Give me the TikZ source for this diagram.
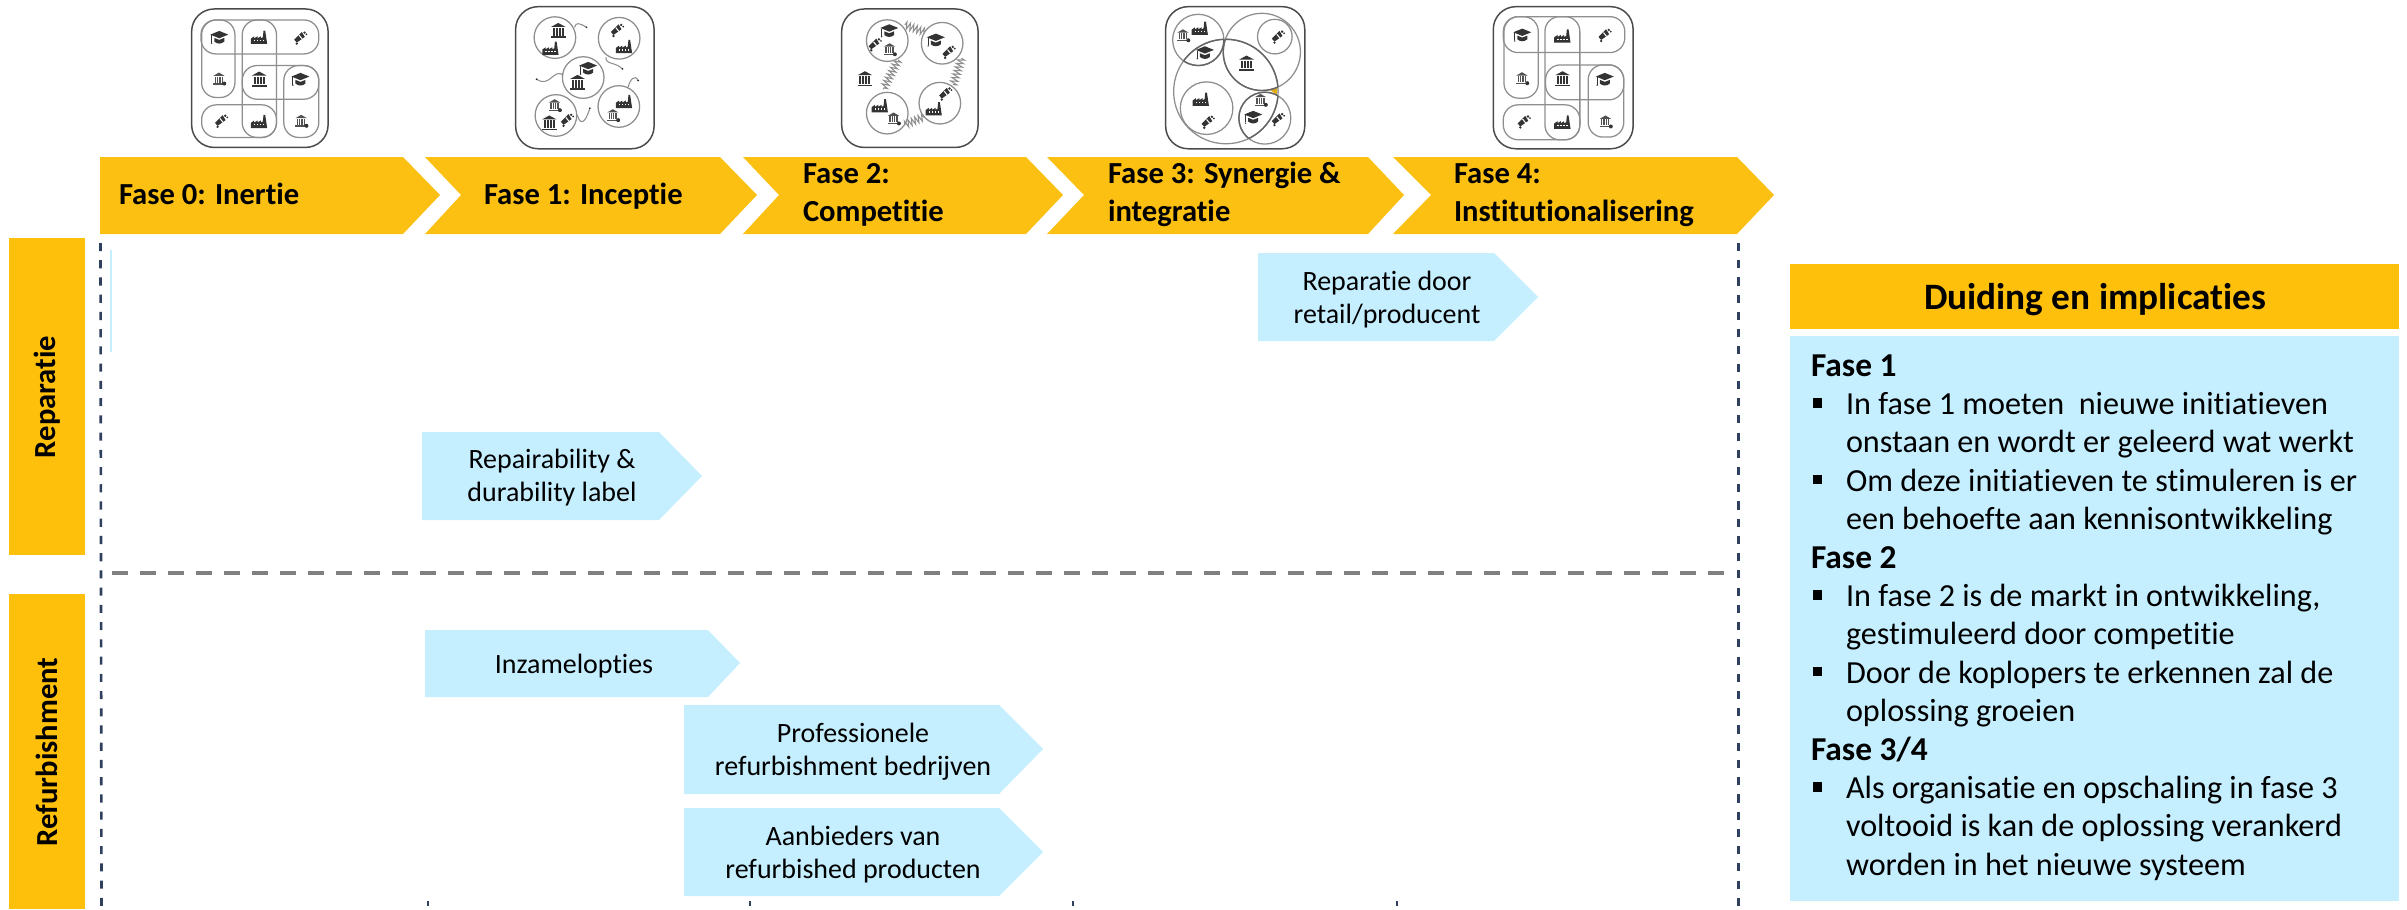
\documentclass[tikz,border=0pt]{standalone}
\usepackage{fontspec}
\setmainfont[Ligatures={NoCommon,TeX}]{Carlito}
\usetikzlibrary{decorations.pathmorphing}
\definecolor{fase}{HTML}{FBC012}
\definecolor{lab}{HTML}{FFC00B}
\definecolor{pale}{HTML}{C5EEFF}
\definecolor{ink}{HTML}{333333}
\definecolor{ring}{HTML}{8E8E8E}
\definecolor{frame}{HTML}{4A4A4A}
\definecolor{navy}{HTML}{2F405F}
\definecolor{midgrey}{HTML}{808080}
\newcommand{\fsF}{\fontsize{8.7}{10.8}\selectfont\bfseries}
\newcommand{\fsB}{\fontsize{7.95}{9.4}\selectfont}
\newcommand{\fsP}{\fontsize{9.15}{10.92}\selectfont}
\tikzset{
  every node/.style={inner sep=0pt,outer sep=0pt,text=black},
  fasetxt/.style={anchor=base west,font=\fsF},
  fasetwo/.style={anchor=west,align=left,font=\fsF},
  bluetxt/.style={anchor=base,font=\fsB},
  bluetwo/.style={align=center,font=\fsB},
  labtxt/.style={rotate=90,font=\fsF},
  headtxt/.style={anchor=base west,font=\fontsize{9.5}{10.92}\selectfont\bfseries},
  bodytxt/.style={anchor=north west,align=left,font=\fsP},
  bulletbox/.style={fill=black,minimum width=2.6pt,minimum height=2.6pt},
  outerbox/.style={draw=frame,line width=.42pt,rounded corners=6.4pt},
  cell/.style={draw=ring,line width=.36pt,rounded corners=4.2pt},
  rring/.style={draw=ring,line width=.36pt},
  dkring/.style={draw=frame!85,line width=.4pt},
  wig/.style={draw=ring,line width=.3pt},
  zig/.style={draw=ring,line width=.3pt,decorate,decoration={zigzag,segment length=1.05pt,amplitude=1pt}},
  vdash/.style={draw=navy,line width=.75pt,dash pattern=on 2.3pt off 2.6pt},
  hdash/.style={draw=midgrey,line width=1pt,dash pattern=on 4.55pt off 3.41pt},
  pics/icap/.style={code={
    \fill[ink] (-27,-8)--(0,-19)--(27,-8)--(0,3)--cycle;
    \fill[ink] (-15,2)--(0,8)--(15,2)--(15,13)..controls(6,21)and(-6,21)..(-15,13)--cycle;
    \draw[ink,line width=.3pt] (-23,-6)--(-23,16);
    \fill[ink] (-23,18) circle (2.4);
  }},
  pics/ifac/.style={code={
    \fill[ink] (-25,20)--(-25,4)--(-15,-3)--(-15,3)--(-5,-3)--(-5,3)--(5,-3)--(5,3)--(11,0)--(13,-20)--(18,-20)--(24,20)--cycle;
    \foreach \u in {-16,-7,2,11}{\fill[white] (\u,8) rectangle ++(4,4);}
  }},
  pics/ibank/.style={code={
    \fill[ink] (-22,-11)--(0,-23)--(22,-11)--cycle;
    \foreach \u in {-17,-8,1,10}{\fill[ink] (\u,-8) rectangle ++(6,23);}
    \fill[ink] (-22,17) rectangle (22,22);
  }},
  pics/igear/.style={code={
    \fill[ink!85] (-18,-10)--(-1,-20)--(16,-10)--cycle;
    \foreach \u in {-14,-7,0,7}{\fill[ink!85] (\u,-8) rectangle ++(4,18);}
    \fill[ink!85] (-18,12) rectangle (12,16);
    \fill[ink] (15,13) circle (6);
  }},
  pics/imeg/.style={code={
    \fill[ink] (-17,4)--(6,-19)--(15,-4)--(-9,13)--cycle;
    \fill[ink] (-9,16) circle (4);
    \fill[ink] (14,-17) circle (4);
    \fill[ink] (20,-12) circle (3);
    \draw[white,line width=.3pt] (-2,-9)--(7,2);
  }},
}
\newcommand{\cellicon}[1]{%
  \foreach \a/\b/\k in {#1}{\pic at (\a,\b) {\k};}}
\begin{document}
\begin{tikzpicture}[x=.01cm,y=-.01cm]
\useasboundingbox (0,0) rectangle (2407,909);
%% chevrons
\fill[fase] (100,157)--(403,157)--(440,195)--(403,234)--(100,234)--cycle;
\fill[fase] (425,157)--(720,157)--(757,195)--(720,234)--(425,234)--(461,195)--cycle;
\fill[fase] (743,157)--(1026,157)--(1063,195)--(1026,234)--(743,234)--(779,195)--cycle;
\fill[fase] (1047,157)--(1368,157)--(1404,195)--(1368,234)--(1047,234)--(1084,195)--cycle;
\fill[fase] (1393,157)--(1737,157)--(1774,195)--(1737,234)--(1393,234)--(1431,195)--cycle;
\node[fasetxt] (f0) at (119,204) {Fase 0: Inertie};
\node[fasetxt] (f1) at (484,204) {Fase 1: Inceptie};
\node[fasetwo] (f2) at (803,195) {\strut Fase 2:\\Competitie\strut};
\node[fasetwo] (f3) at (1108,195) {\strut Fase 3: Synergie \&\\integratie\strut};
\node[fasetwo] (f4) at (1454,195) {\strut Fase 4:\\Institutionalisering\strut};
%% row labels
\fill[lab] (9,238) rectangle (85,555);
\fill[lab] (9,594) rectangle (85,909);
\node[labtxt] (r1) at (47,397) {Reparatie};
\node[labtxt] (r2) at (47,752) {Refurbishment};
%% guides
\coordinate (vlt) at (100.5,243); \coordinate (vlb) at (101.5,909);
\coordinate (vrt) at (1738.5,243); \coordinate (vrb) at (1738.5,909);
\coordinate (hl) at (112,573); \coordinate (hr) at (1730,573);
\draw[vdash] (vlt)--(vlb);
\draw[vdash] (vrt)--(vrb);
\draw[hdash] (hl)--(hr);
\fill[pale] (110,250) rectangle (112,352);
\foreach \u in {428,750,1073,1397}{\fill[navy] (\u-.7,901) rectangle (\u+.7,906);}
%% blue arrows
\fill[pale] (1258,253)--(1494,253)--(1538,297)--(1494,341)--(1258,341)--cycle;
\fill[pale] (422,432)--(659,432)--(702,476)--(659,520)--(422,520)--cycle;
\fill[pale] (425,630)--(708,630)--(740,663)--(708,697)--(425,697)--cycle;
\fill[pale] (684,705)--(999,705)--(1043,749)--(999,794)--(684,794)--cycle;
\fill[pale] (684,808)--(999,808)--(1043,852)--(999,896)--(684,896)--cycle;
\node[bluetwo] (a1) at (1387,300) {\strut Reparatie door\\retail/producent\strut};
\node[bluetwo] (a2) at (552,478) {\strut Repairability \&\\durability label\strut};
\node[bluetxt] (a3) at (574,673) {Inzamelopties};
\node[bluetwo] (a4) at (853,752) {\strut Professionele\\refurbishment bedrijven\strut};
\node[bluetwo] (a5) at (853,855) {\strut Aanbieders van\\refurbished producten\strut};
%% panel
\fill[lab] (1790,264) rectangle (2399,329);
\fill[pale] (1790,336) rectangle (2399,901);
\node[anchor=base,font=\fontsize{10.6}{12}\selectfont\bfseries] (ph) at (2095,309) {Duiding en implicaties};
\node[headtxt] (h1) at (1811,376) {Fase 1};
\node[headtxt] (h2) at (1811,568) {Fase 2};
\node[headtxt] (h3) at (1811,760) {Fase 3/4};
\node[bodytxt] (b1) at (1846,387.5) {\strut In fase 1 moeten\ \ nieuwe initiatieven\\onstaan en wordt er geleerd wat werkt\strut};
\node[bodytxt] (b2) at (1846,464.3) {\strut Om deze initiatieven te stimuleren is er\\een behoefte aan kennisontwikkeling\strut};
\node[bodytxt] (b3) at (1846,579.5) {\strut In fase 2 is de markt in ontwikkeling,\\gestimuleerd door competitie\strut};
\node[bodytxt] (b4) at (1846,656.3) {\strut Door de koplopers te erkennen zal de\\oplossing groeien\strut};
\node[bodytxt] (b5) at (1846,771.5) {\strut Als organisatie en opschaling in fase 3\\voltooid is kan de oplossing verankerd\\worden in het nieuwe systeem\strut};
\foreach \n/\yy in {1/403,2/479.5,3/595,4/671.5,5/787}{\node[bulletbox] (bul\n) at (1817.5,\yy) {};}
%% icon 0
\begin{scope}[shift={(180,0)},x=.003333cm,y=-.003333cm]
\draw[outerbox] (35,27) rectangle (445,443);
\draw[cell] (63,60) rectangle (417,162);
\draw[cell] (65,60) rectangle (165,293);
\draw[cell] (187,60) rectangle (290,413);
\draw[cell] (187,197) rectangle (417,298);
\draw[cell] (312,197) rectangle (417,413);
\draw[cell] (65,315) rectangle (290,413);
\cellicon{118/112/icap,238/112/ifac,360/115/imeg,118/238/igear,238/238/ibank,362/238/icap,122/365/imeg,238/365/ifac,365/365/igear}
\end{scope}
%% icon 1
\begin{scope}[shift={(500,0)},x=.003333cm,y=-.003333cm]
\draw[outerbox] (47,20) rectangle (463,447);
\foreach \a/\b in {165/113,358/115,250/233,168/347,357/320}{\draw[rring] (\a,\b) circle (62.5);}
\cellicon{175/92/ibank,152/145/ifac,350/92/imeg,373/140/ifac,265/205/icap,233/248/ibank,165/318/igear,148/370/ibank,200/362/imeg,373/305/ifac,340/348/igear}
\draw[wig] (224,82) .. controls (228,65) and (240,70) .. (260,82);
\fill[ink] (260,82) circle (3);
\draw[wig] (318,172) .. controls (318,195) and (345,185) .. (368,207);
\fill[ink] (368,207) circle (3);
\draw[wig] (190,225) .. controls (160,205) and (150,265) .. (110,238);
\fill[ink] (110,238) circle (3);
\draw[wig] (385,262) .. controls (390,240) and (405,222) .. (415,242);
\fill[ink] (415,242) circle (3);
\draw[wig] (232,345) .. controls (240,375) and (255,375) .. (270,325);
\fill[ink] (270,325) circle (3);
\end{scope}
%% icon 2
\begin{scope}[shift={(830,0)},x=.003333cm,y=-.003333cm]
\draw[outerbox] (35,27) rectangle (445,443);
\foreach \a/\b in {172/122,337/130,172/340,330/310}{\draw[rring] (\a,\b) circle (62.5);}
\cellicon{178/92/icap,133/135/imeg,180/150/igear,318/120/icap,355/158/imeg,105/237/ibank,150/318/ifac,192/358/igear,345/283/imeg,312/327/ifac}
\draw[zig] (225,75)--(285,97);
\draw[zig] (205,180)--(160,268);
\draw[zig] (395,175)--(370,255);
\draw[zig] (225,375)--(285,350);
\end{scope}
%% icon 3
\begin{scope}[shift={(1155,0)},x=.003333cm,y=-.003333cm]
\draw[outerbox] (32,20) rectangle (450,447);
\fill[fase!90!black] (345,270)--(368,265)--(366,285)--cycle;
\foreach \a/\b/\r in {130/120/77,321/156/116,360/110/52,213/275/157,155/325/79,330/355/78}{\draw[rring] (\a,\b) circle (\r);}
\begin{scope}\clip (213,275) circle (157);
\draw[dkring] (130,120) circle (77);
\draw[dkring] (321,156) circle (116);
\draw[dkring] (330,355) circle (78);
\end{scope}
\begin{scope}\clip (130,120) circle (77); \draw[dkring] (213,275) circle (157); \end{scope}
\begin{scope}\clip (321,156) circle (116); \draw[dkring] (213,275) circle (157); \end{scope}
\begin{scope}\clip (330,355) circle (78); \draw[dkring] (213,275) circle (157); \end{scope}
\cellicon{85/108/igear,135/85/ifac,150/158/icap,368/112/imeg,275/190/ibank,138/298/ifac,157/368/imeg,318/302/igear,295/352/icap,368/360/imeg}
\end{scope}
%% icon 4
\begin{scope}[shift={(1480,0)},x=.003333cm,y=-.003333cm]
\draw[outerbox] (40,20) rectangle (460,447);
\draw[cell] (70,50) rectangle (435,158);
\draw[cell] (72,50) rectangle (175,295);
\draw[cell] (195,50) rectangle (300,420);
\draw[cell] (197,195) rectangle (432,300);
\draw[cell] (325,195) rectangle (432,412);
\draw[cell] (70,315) rectangle (300,420);
\cellicon{127/105/icap,248/108/ifac,373/107/imeg,127/237/igear,248/237/ibank,375/238/icap,130/367/imeg,248/367/ifac,378/367/igear}
\end{scope}
\end{tikzpicture}
\end{document}
